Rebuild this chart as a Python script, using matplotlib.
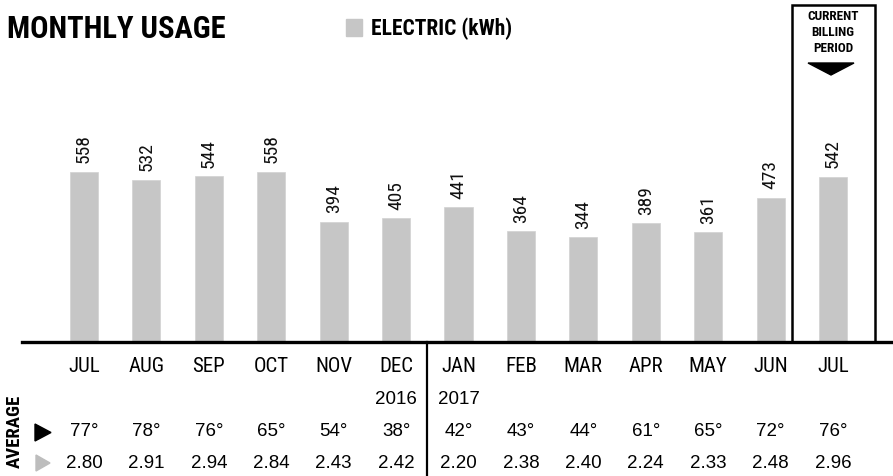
import matplotlib
matplotlib.use("Agg")
import matplotlib.pyplot as plt
import matplotlib.transforms as mtransforms
from matplotlib.patches import Rectangle, Polygon

months = ["JUL", "AUG", "SEP", "OCT", "NOV", "DEC", "JAN", "FEB", "MAR", "APR", "MAY", "JUN", "JUL"]
usage_kwh = [558, 532, 544, 558, 394, 405, 441, 364, 344, 389, 361, 473, 542]
years = {5: "2016", 6: "2017"}
avg_temp = [77, 78, 76, 65, 54, 38, 42, 43, 44, 61, 65, 72, 76]
avg_daily = [2.80, 2.91, 2.94, 2.84, 2.43, 2.42, 2.20, 2.38, 2.40, 2.24, 2.33, 2.48, 2.96]

W, H = 893, 476
# condensed face if there is one, otherwise Arial-metric Liberation Sans
NARROW = ["Liberation Sans Narrow", "Roboto Condensed", "Open Sans Condensed",
          "Liberation Sans", "DejaVu Sans"]
REG = ["Liberation Sans", "DejaVu Sans"]
BAR_GRAY = "#c6c6c6"

fig = plt.figure(figsize=(W / 100, H / 100), dpi=100)
fig.patch.set_facecolor("white")

# bar area: from baseline (y=342 px from top) up to the top edge
base_px = 342
ax = fig.add_axes([0, (H - base_px) / H, 1, base_px / H])
ax.axis("off")
px_per_unit = 62.42
x0 = 84
ax.set_xlim(-x0 / px_per_unit, (W - x0) / px_per_unit)
ax.set_ylim(0, base_px / 0.305)

xs = list(range(len(months)))
ax.bar(xs, usage_kwh, width=0.45, color=BAR_GRAY, edgecolor="#d2d2d2", linewidth=0.5)
for x, v in zip(xs, usage_kwh):
    ax.annotate(str(v), (x, v), xytext=(0, 6), textcoords="offset points",
                rotation=90, ha="center", va="bottom", fontsize=14,
                family=NARROW, color="#111111")

# figure-pixel helper (y counted from the top)
def fy(ypix):
    return 1 - ypix / H

blend = mtransforms.blended_transform_factory(ax.transData, fig.transFigure)

# baseline and divider
fig.add_artist(plt.Line2D([22 / W, 1], [fy(base_px)] * 2, color="black", lw=2.4))
fig.add_artist(plt.Line2D([427 / W] * 2, [fy(base_px), 0], color="black", lw=1.6))

# current billing period box
box_l, box_r, box_t = 11.34, 12.67, 5
ax.add_patch(Rectangle((box_l, 0), box_r - box_l, (base_px - box_t) / 0.305,
                       fill=False, edgecolor="black", lw=1.8, clip_on=False))
for t, yp in [("CURRENT", 16), ("BILLING", 32), ("PERIOD", 48)]:
    fig.text(12.0, fy(yp), t, transform=blend, ha="center", va="center",
             fontsize=9.5, family=NARROW, fontweight="bold", color="black")
tri = Polygon([[808 / W, fy(63)], [854 / W, fy(63)], [831 / W, fy(75)]],
              closed=True, color="black", transform=fig.transFigure)
fig.add_artist(tri)

# title and legend
fig.text(7 / W, fy(29), "MONTHLY USAGE", ha="left", va="center", fontsize=22,
         fontweight="bold", family=NARROW)
fig.add_artist(Rectangle((346 / W, fy(36)), 16 / W, 17 / H, color=BAR_GRAY,
                         transform=fig.transFigure))
fig.text(371 / W, fy(29), "ELECTRIC (kWh)", ha="left", va="center", fontsize=15.5,
         family=NARROW, fontweight="bold")

# table rows under the bars
for x, m in zip(xs, months):
    fig.text(x, fy(366), m, transform=blend, ha="center", va="center",
             fontsize=15, family=NARROW)
for i, y in years.items():
    fig.text(xs[i], fy(399), y, transform=blend, ha="center", va="center",
             fontsize=13.5, family=REG)
for x, t in zip(xs, avg_temp):
    fig.text(x, fy(432), f"{t}°", transform=blend, ha="center", va="center",
             fontsize=13.5, family=REG)
for x, d in zip(xs, avg_daily):
    fig.text(x, fy(463), f"{d:.2f}", transform=blend, ha="center", va="center",
             fontsize=13.5, family=REG)

fig.text(15 / W, fy(431), "AVERAGE", rotation=90, ha="center", va="center",
         fontsize=13.5, fontweight="bold", family=NARROW)
fig.add_artist(Polygon([[35 / W, fy(424)], [35 / W, fy(441)], [51 / W, fy(432.5)]],
                       closed=True, color="black", transform=fig.transFigure))
fig.add_artist(Polygon([[36 / W, fy(455)], [36 / W, fy(471)], [50 / W, fy(463)]],
                       closed=True, color="#bdbdbd", transform=fig.transFigure))

fig.savefig("out.png", dpi=100)
